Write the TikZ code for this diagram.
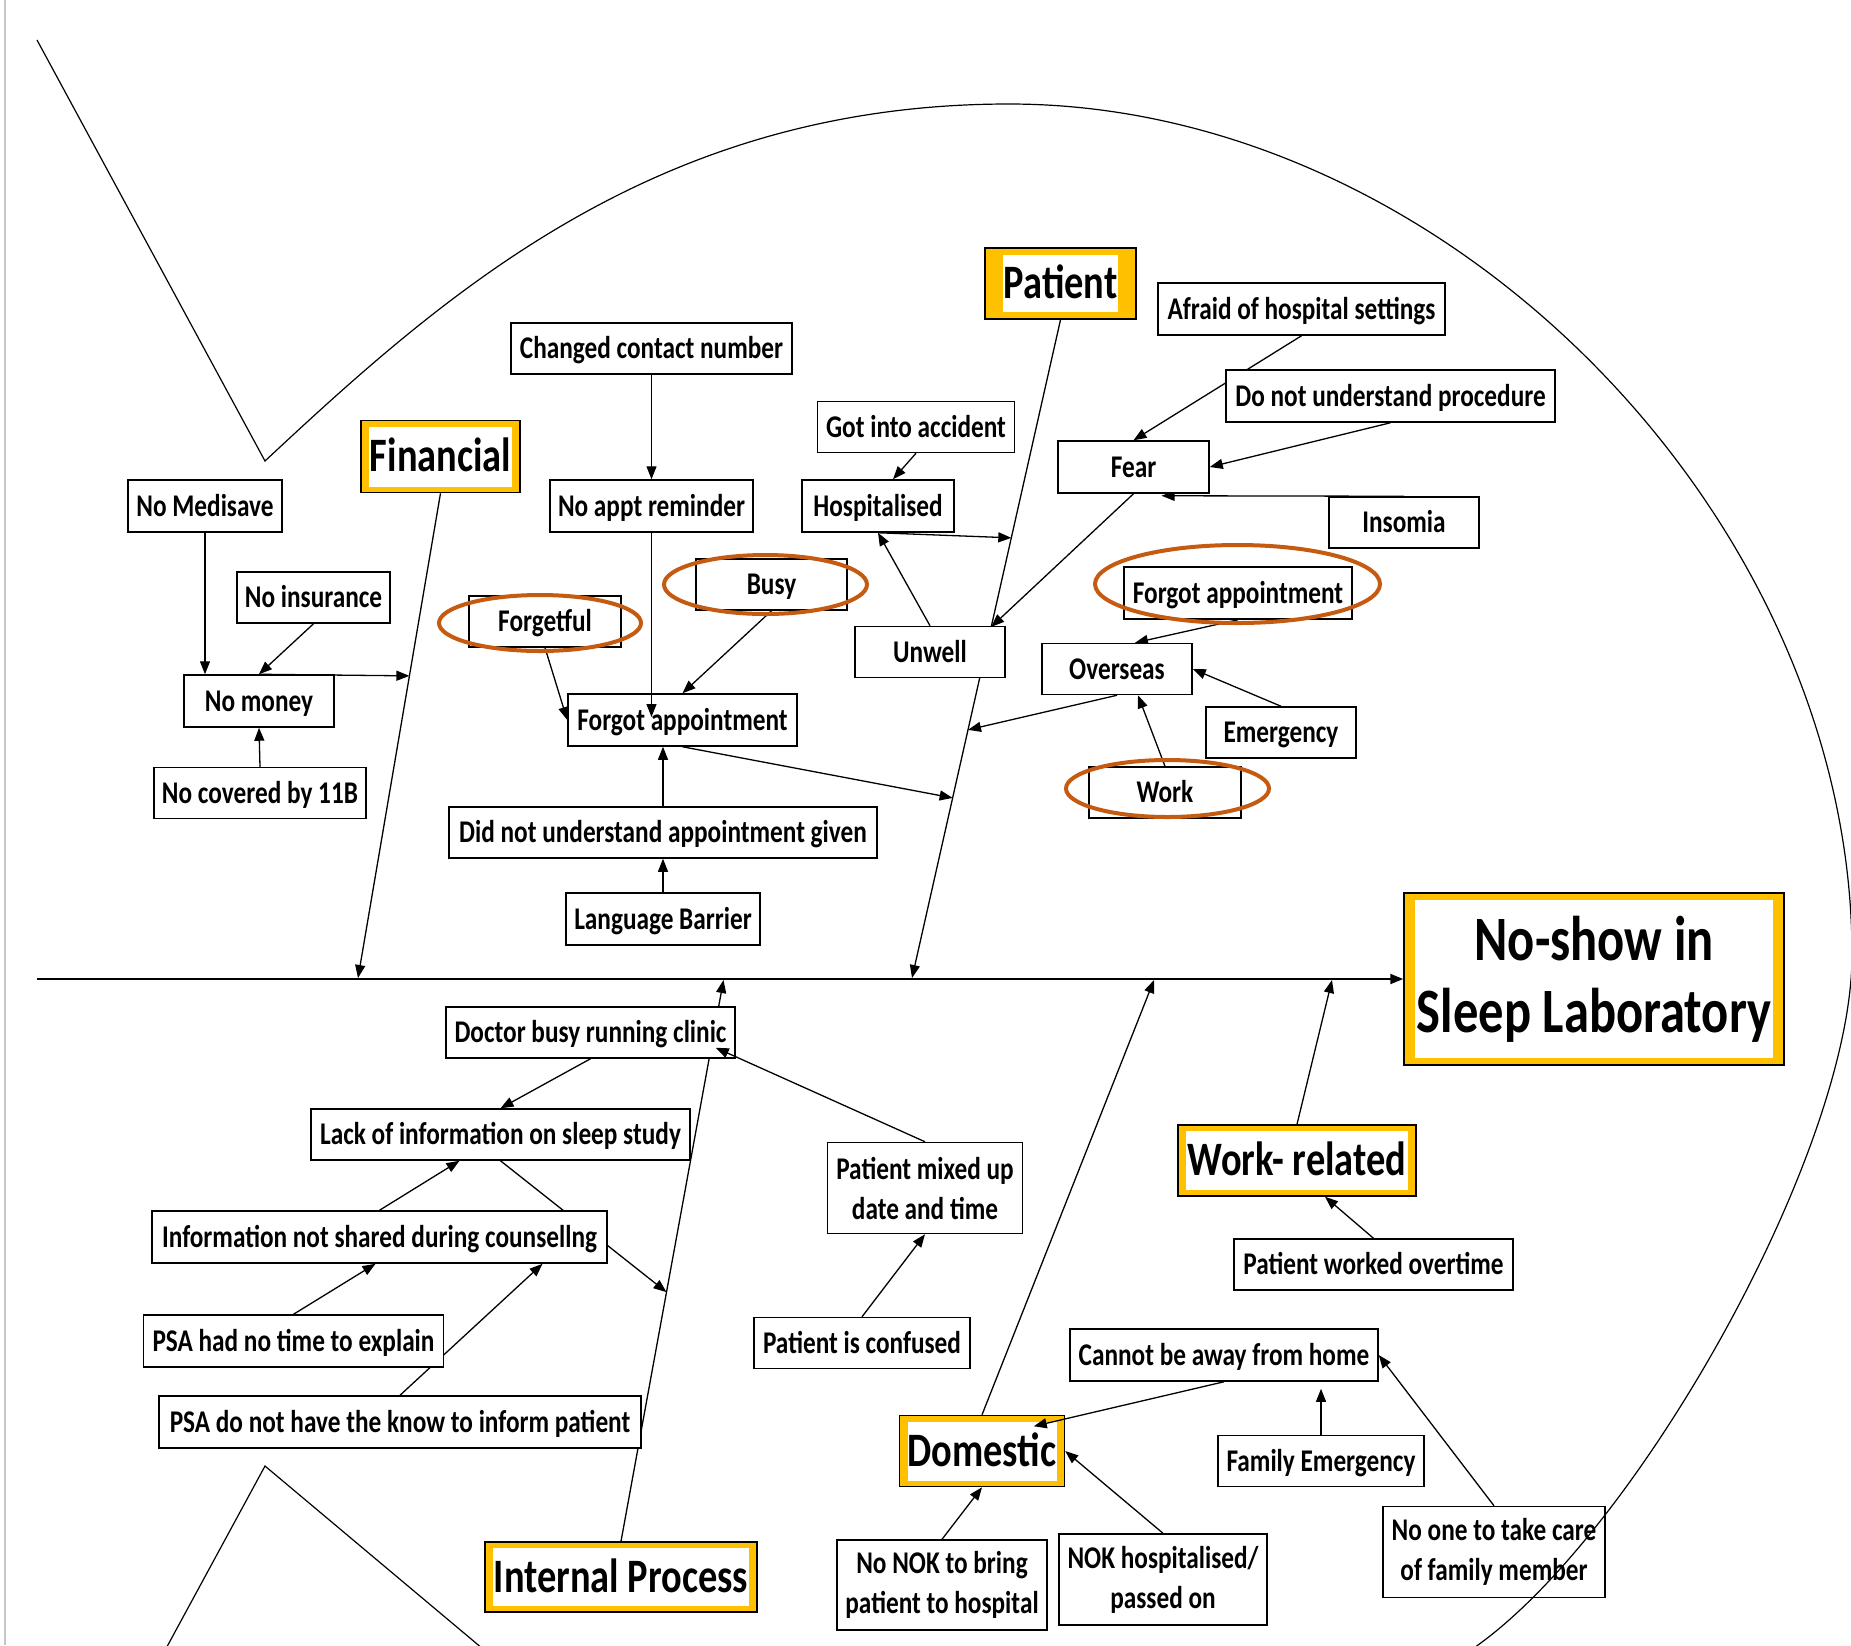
\documentclass[tikz,border=0pt]{standalone}
\usepackage{fontspec}
\newfontfamily\cf{Carlito}[FakeStretch=0.8]
\usetikzlibrary{calc,arrows.meta,shapes.geometric}
\definecolor{gold}{HTML}{FFC000}
\definecolor{circ}{HTML}{C55A11}
\pgfdeclarelayer{bg}
\pgfdeclarelayer{fg}
\pgfsetlayers{bg,main,fg}
\tikzset{
  sz/.style 2 args={minimum width={#1*0.5pt},minimum height={#2*0.5pt}},
  box/.style={draw=black,line width=0.75pt,fill=white,inner sep=0pt,
    font=\cf\bfseries\fontsize{15.8}{20}\selectfont,text height=10pt,text depth=0pt},
  box2/.style={draw=black,line width=0.75pt,fill=white,inner sep=0pt,align=center,
    font=\cf\bfseries\fontsize{15.8}{20}\selectfont},
  catout/.style={draw=black,line width=0.75pt,fill=gold,inner sep=0pt},
  catin/.style={fill=white,inner sep=0pt,font=\cf\bfseries\fontsize{24}{28}\selectfont,
    text height=15.2pt,text depth=0pt},
  titin/.style={fill=white,inner sep=0pt,align=center,
    font=\cf\bfseries\fontsize{31.6}{36}\selectfont},
  ring/.style={ellipse,draw=circ,line width=2pt,inner sep=0pt},
  arr/.style={line width=0.65pt,-{Triangle[length=6.5pt,width=5pt]}},
  fish/.style={line width=0.6pt},
}
\begin{document}
\begin{tikzpicture}[x=0.5pt,y=-0.5pt]
\useasboundingbox (0,0) rectangle (1851,1645);
\clip (0,0) rectangle (1851,1645);

% ---------- boxes ----------
\node[box,sz={154}{52}] (medisave) at (205,506) {No Medisave};
\node[box,sz={153}{51}] (insurance) at (313.5,597.5) {No insurance};
\node[box,sz={150}{52}] (nomoney) at (259,701) {No money};
\node[box,sz={212}{51}] (covered) at (260,793) {No covered by 11B};
\node[box,sz={281}{51}] (changed) at (651.5,348.5) {Changed contact number};
\node[box,sz={203}{52}] (noappt) at (651.5,506) {No appt reminder};
\node[box,sz={152}{51}] (forgetful) at (545,621.5) {Forgetful};
\node[box,sz={151}{51}] (busy) at (771.5,584.5) {Busy};
\node[box,sz={229}{52}] (forgotL) at (682.5,720) {Forgot appointment};
\node[box,sz={428}{51}] (didnot) at (663,832.5) {Did not understand appointment given};
\node[box,sz={194}{52}] (language) at (663,919) {Language Barrier};
\node[box,sz={197}{51}] (accident) at (916,427) {Got into accident};
\node[box,sz={152}{52}] (hosp) at (878,506) {Hospitalised};
\node[box,sz={150}{51}] (unwell) at (930,652) {Unwell};
\node[box,sz={287}{52}] (afraid) at (1301.5,309) {Afraid of hospital settings};
\node[box,sz={329}{52}] (dnu) at (1390.5,396) {Do not understand procedure};
\node[box,sz={151}{52}] (fear) at (1133.5,467) {Fear};
\node[box,sz={150}{51}] (insomia) at (1404,522.5) {Insomia};
\node[box,sz={228}{52}] (forgotR) at (1238,593) {Forgot appointment};
\node[box,sz={150}{51}] (overseas) at (1117,669) {Overseas};
\node[box,sz={150}{51}] (emergency) at (1281,732.5) {Emergency};
\node[box,sz={152}{51}] (work) at (1165,792.5) {Work};
\node[box,sz={289}{51}] (doctor) at (590.5,1032.5) {Doctor busy running clinic};
\node[box,sz={379}{51}] (lack) at (500.5,1134.5) {Lack of information on sleep study};
\node[box,sz={455}{52}] (info) at (379.5,1237) {Information not shared during counsellng};
\node[box,sz={300}{52}] (psa1) at (293.5,1341) {PSA had no time to explain};
\node[box,sz={482}{52}] (psa2) at (400,1422) {PSA do not have the know to inform patient};
\node[box2,sz={195}{91}] (pmixed) at (925,1188) {Patient mixed up\\date and time};
\node[box,sz={216}{51}] (confused) at (862,1343) {Patient is confused};
\node[box,sz={308}{52}] (cannot) at (1224,1355) {Cannot be away from home};
\node[box,sz={206}{51}] (famemerg) at (1321,1461) {Family Emergency};
\node[box2,sz={222}{91}] (noone) at (1494,1552) {No one to take care\\of family member};
\node[box2,sz={208}{91}] (nokh) at (1163,1579.5) {NOK hospitalised/\\passed on};
\node[box2,sz={210}{90}] (nonok) at (942,1585) {No NOK to bring\\patient to hospital};
\node[box,sz={279}{51}] (overtime) at (1373.5,1264.5) {Patient worked overtime};

% ---------- category boxes ----------
\node[catout,sz={159}{72}] (financial) at (440.5,456.5) {};
\node[catin,sz={143}{60}] (financial-in) at (financial) {Financial};
\node[catout,sz={151}{71}] (patient) at (1060.5,283.5) {};
\node[catin,sz={115}{57}] (patient-in) at (patient) {Patient};
\node[catout,sz={272}{70}] (internal) at (621,1577) {};
\node[catin,sz={256}{58}] (internal-in) at (internal) {Internal Process};
\node[catout,sz={165}{71}] (domestic) at (982,1451) {};
\node[catin,sz={149}{59}] (domestic-in) at (domestic) {Domestic};
\node[catout,sz={238}{71}] (workrel) at (1297,1160.5) {};
\node[catin,sz={222}{59}] (workrel-in) at (workrel) {Work- related};
\node[catout,sz={380}{172}] (title) at (1594,979) {};
\node[titin,sz={358}{158}] (title-in) at (title) {No-show in\\Sleep Laboratory};

% ---------- circled causes ----------
\node[ring,sz={202}{56}] (r1) at (540,623) {};
\node[ring,sz={203}{59}] (r2) at (765.5,584.5) {};
\node[ring,sz={285}{78}] (r3) at (1237.5,584) {};
\node[ring,sz={203}{57}] (r4) at (1167.5,788.5) {};

% ---------- spine and bone points ----------
\coordinate (spineA) at (37,979);
\coordinate (finS) at (358,978);
\coordinate (patS) at (912,978);
\coordinate (ipS) at (723.5,980);
\coordinate (domS) at (1154,980);
\coordinate (workS) at (1332,980);
\coordinate (fin1) at ($(financial.south)!0.3767!(finS)$);
\coordinate (pat1) at ($(patient.south)!0.7264!(patS)$);
\coordinate (pat2) at ($(patient.south)!0.3313!(patS)$);
\coordinate (pat3) at ($(patient.south)!0.623!(patS)$);
\coordinate (pat4) at ($(patient.south)!0.4666!(patS)$);
\coordinate (int1) at ($(internal.north)!0.4439!(ipS)$);

\begin{pgfonlayer}{bg}
\fill[white] (0,0) rectangle (1851,1645);
\draw[gray!45,line width=1pt] (5,0) -- (5,1645);
\draw[line width=1pt,-{Triangle[length=6.5pt,width=5pt]}] (spineA) -- (title.west);
\draw[arr] (financial.south) -- (finS);
\draw[arr] (patient.south) -- (patS);
\draw[arr] (internal.north) -- (ipS);
\draw[arr] (domestic.north) -- (domS);
\draw[arr] (workrel.north) -- (workS);
\draw[arr] (medisave.south) -- (nomoney.north -| medisave.south);
\draw[arr] (insurance.south) -- (nomoney.north);
\draw[arr] (nomoney.north) -- (fin1);
\draw[arr] (covered.north) -- (nomoney.south);
\draw[arr] (changed.south) -- (noappt.north);
\draw[arr] (forgetful.south) -- (forgotL.west);
\draw[arr] (busy.south) -- (forgotL.north);
\draw[arr] (didnot.north) -- (didnot.north |- forgotL.south);
\draw[arr] (language.north) -- (didnot.south);
\draw[arr] (forgotL.south) -- (pat1);
\draw[arr] (accident.south) -- ($(hosp.north)+(15,0)$);
\draw[arr] (hosp.south) -- (pat2);
\draw[arr] (unwell.north) -- (hosp.south);
\draw[arr] (fear.south) -- (pat4);
\draw[arr] (overseas.south) -- (pat3);
\draw[arr] (afraid.south) -- (fear.north);
\draw[arr] (dnu.south) -- (fear.east);
\draw[arr] (insomia.north) -- ($(fear.south)+(28,2)$);
\draw[arr] (forgotR.south) -- ($(overseas.north)+(18,0)$);
\draw[arr] (emergency.north) -- (overseas.east);
\draw[arr] (work.north) -- ($(overseas.south)+(21,0)$);
\draw[arr] (doctor.south) -- (lack.north);
\draw[arr] (info.north) -- ($(lack.south)+(-41,0)$);
\draw[arr] (lack.south) -- (int1);
\draw[arr] (psa1.north) -- ($(info.south)+(-4,0)$);
\draw[arr] (psa2.north) -- ($(info.south)+(163,0)$);
\draw[arr] (confused.north) -- (pmixed.south);
\draw[arr] (famemerg.north) -- ($(cannot.south -| famemerg.north)+(0,7)$);
\draw[arr] (noone.north) -- (cannot.east);
\draw[arr] (nonok.north) -- (domestic.south);
\draw[arr] (nokh.north) -- (domestic.east);
\end{pgfonlayer}

% connectors drawn over boxes
\draw[arr] (noappt.south) -- ($(noappt.south |- forgotL.center)+(0,-3)$);
\draw[arr] (pmixed.north) -- ($(doctor.south east)+(-20,-11)$);
\draw[arr] (cannot.south) -- ($(domestic.north east)+(-31.5,11.5)$);
\draw[arr] (overtime.north) -- ($(workrel.south)+(28,0)$);

% ---------- fish outline ----------
\begin{pgfonlayer}{fg}
\draw[fish] (37,40) -- (265,461)
  .. controls (448,290) and (659,104) .. (1009,104)
  .. controls (1449,104) and (1852,520) .. (1852,955)
  .. controls (1852,1150) and (1640,1528) .. (1478,1645) -- (1420,1687);
\draw[fish] (150,1678) -- (265,1466) -- (520,1680);
\end{pgfonlayer}
\end{tikzpicture}
\end{document}
